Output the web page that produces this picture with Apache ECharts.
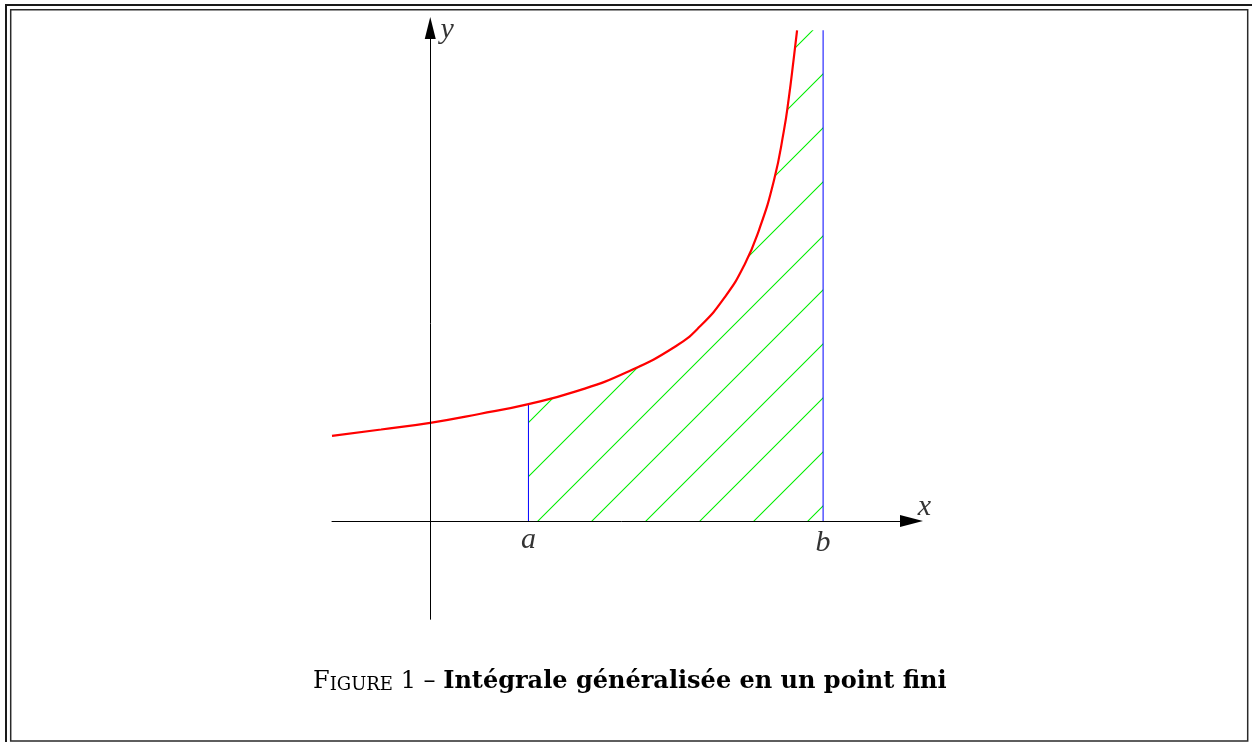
<!DOCTYPE html>
<html><head><meta charset="utf-8">
<script src="https://cdn.jsdelivr.net/npm/echarts@6/dist/echarts.min.js"></script>
<style>html,body{margin:0;padding:0;background:#fff}#main{width:1252px;height:742px}</style>
</head><body><div id="main"></div>
<script>
// ---- data ----
const curveX = [-1.0, -0.5, 0.0, 0.5, 1.0, 1.5, 2.0, 2.5, 2.75, 3.0, 3.2, 3.35, 3.5, 3.6, 3.65, 3.7, 3.735];
const curveY = [0.868, 0.932, 1.000, 1.090, 1.191, 1.325, 1.515, 1.780, 1.985, 2.280, 2.610, 2.970, 3.470, 3.970, 4.300, 4.700, 4.997];
const boundA = 1;
const boundB = 4;
const boundLabels = ['a', 'b'];
const axisNames = ['x', 'y'];
const xRange = [-1, 4.9];
const yRange = [-1, 5.02];
const captionLead = ['F', 'IGURE', ' 1 – '];
const captionTitle = 'Intégrale généralisée en un point fini';

// ---- derived series ----
const curveData = curveX.map((x, i) => [x, curveY[i]]);
const fA = curveY[curveX.indexOf(boundA)];
const topY = curveY[curveY.length - 1];
const hatchData = curveData.filter(p => p[0] >= boundA).concat([[boundB, topY]]);

// hatch pattern (45° lines)
const tile = document.createElement('canvas');
tile.width = 54; tile.height = 54;
const g = tile.getContext('2d');
g.strokeStyle = '#00ee00';
g.lineWidth = 1.1;
g.beginPath();
g.moveTo(-6, 39); g.lineTo(39, -6);
g.moveTo(27, 60); g.lineTo(60, 27);
g.stroke();

const serif = 'Liberation Serif';
const mathLabel = {show: true, fontFamily: serif, fontStyle: 'italic', fontSize: 30, color: '#000', position: 'inside'};
const capFont = 'DejaVu Serif';

const chart = echarts.init(document.getElementById('main'), null, {renderer: 'canvas'});
chart.setOption({
  animation: false,
  backgroundColor: '#fff',
  grid: {left: 332, right: 340.5, top: 28, bottom: 122.75},
  xAxis: {
    type: 'value', min: xRange[0], max: xRange[1], z: 5,
    axisLine: {onZero: true, lineStyle: {color: '#000', width: 1}, symbol: ['none', 'triangle'], symbolSize: [12, 23]},
    axisTick: {show: false}, axisLabel: {show: false}, splitLine: {show: false}
  },
  yAxis: {
    type: 'value', min: yRange[0], max: yRange[1], z: 5,
    axisLine: {onZero: true, lineStyle: {color: '#000', width: 1}, symbol: ['none', 'triangle'], symbolSize: [11, 22]},
    axisTick: {show: false}, axisLabel: {show: false}, splitLine: {show: false}
  },
  title: {
    left: 308, top: 660,
    text: '{n|' + captionLead[0] + '}{s|' + captionLead[1] + '}{n|' + captionLead[2] + '}{b|' + captionTitle + '}',
    textStyle: {fontWeight: 'normal', rich: {
      n: {fontFamily: capFont, fontSize: 24, fontWeight: 'normal', color: '#000', lineHeight: 29, verticalAlign: 'bottom'},
      s: {fontFamily: capFont, fontSize: 18, fontWeight: 'normal', color: '#000', lineHeight: 24.9, verticalAlign: 'bottom'},
      b: {fontFamily: capFont, fontSize: 24, fontWeight: 'bold', color: '#000', lineHeight: 29, verticalAlign: 'bottom'}
    }}
  },
  graphic: [
    {type: 'rect', shape: {x: 6, y: 5, width: 1300, height: 800}, style: {fill: 'none', stroke: '#1a1a1a', lineWidth: 2}, silent: true},
    {type: 'rect', shape: {x: 10.7, y: 9.7, width: 1237, height: 731.3}, style: {fill: 'none', stroke: '#2a2a2a', lineWidth: 1.5}, silent: true}
  ],
  series: [
    {
      name: 'hatch', type: 'line', data: hatchData, symbol: 'none', smooth: false, z: 1,
      lineStyle: {width: 0, opacity: 0},
      areaStyle: {color: {image: tile, repeat: 'repeat'}, opacity: 1}
    },
    {
      name: 'boundA', type: 'line', data: [[boundA, 0], [boundA, fA]], symbol: 'none', z: 2,
      lineStyle: {color: '#0000ff', width: 1}
    },
    {
      name: 'boundB', type: 'line', data: [[boundB, 0], [boundB, topY]], symbol: 'none', z: 2,
      lineStyle: {color: '#0000ff', width: 1}
    },
    {
      name: 'curve', type: 'line', data: curveData, symbol: 'none', smooth: 0.5, z: 3,
      lineStyle: {color: '#ff0000', width: 2.2}
    },
    {
      name: 'labels', type: 'scatter', symbolSize: 0, z: 6, silent: true,
      label: mathLabel,
      data: [
        {value: [boundA, 0], label: {formatter: boundLabels[0], offset: [0, 19]}},
        {value: [boundB, 0], label: {formatter: boundLabels[1], offset: [0, 22]}},
        {value: [xRange[1], 0], label: {formatter: axisNames[0], offset: [13, -14]}},
        {value: [0, yRange[1]], label: {formatter: axisNames[1], offset: [17, 2]}}
      ]
    }
  ]
});
</script></body></html>
